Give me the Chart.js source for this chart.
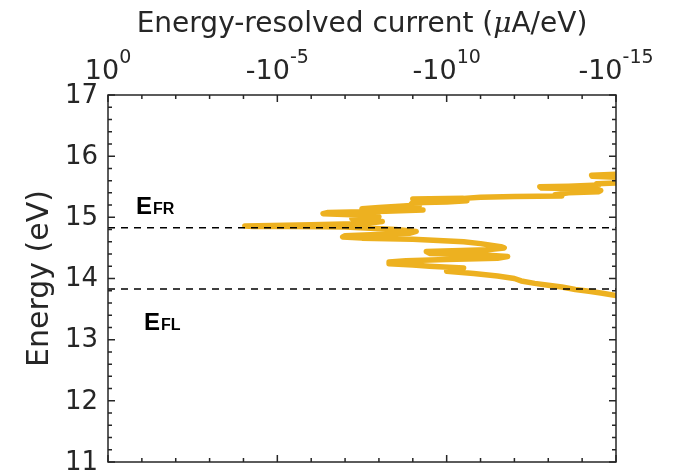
<!DOCTYPE html>
<html>
<head>
<meta charset="utf-8">
<script src="https://cdn.jsdelivr.net/npm/chart.js@4/dist/chart.umd.min.js"></script>
<style>
  html, body { margin: 0; padding: 0; background: #ffffff; }
  canvas { display: block; }
</style>
</head>
<body>
<canvas id="chart" width="676" height="475"></canvas>
<script>
// energy (eV), top to bottom
const energy = [
  15.72, 15.69, 15.67, 15.64, 15.57, 15.55, 15.53, 15.51, 15.50, 15.48,
  15.47, 15.44, 15.42, 15.40, 15.37, 15.35, 15.34, 15.33, 15.31, 15.30,
  15.28, 15.27, 15.25, 15.24, 15.22, 15.20, 15.16, 15.14, 15.12, 15.10,
  15.08, 15.06, 15.04, 15.01, 14.98, 14.95, 14.93, 14.90, 14.88, 14.86,
  14.85, 14.85, 14.84, 14.80, 14.77, 14.74, 14.70, 14.68, 14.66, 14.64,
  14.60, 14.57, 14.52, 14.50, 14.47, 14.44, 14.41, 14.39, 14.36, 14.33,
  14.31, 14.29, 14.27, 14.24, 14.22, 14.20, 14.17, 14.15, 14.12, 14.08,
  14.04, 14.00, 13.96, 13.92, 13.89, 13.86, 13.82, 13.79, 13.76, 13.72,
  13.68, 13.64
];

// log10 of |current| (uA/eV) at each energy
const logCurrent = [
  -15.6, -14.28, -14.3, -15.6, -15.6, -14.43, -14.5, -13.6, -12.75, -12.8,
  -13.7, -14.55, -14.5, -13.6, -13.2, -13.4, -12.0, -11.0, -10.5, -9.0,
  -9.4, -10.6, -10.0, -9.0, -8.96, -9.2, -8.0, -7.5, -9.3, -8.2,
  -6.5, -6.35, -7.4, -8.0, -7.2, -7.5, -8.1, -7.6, -6.0, -4.04,
  -4.3, -5.5, -7.0, -8.5, -9.1, -8.9, -7.0, -6.93, -7.5, -9.0,
  -10.5, -11.0, -11.6, -11.7, -11.2, -9.4, -9.5, -11.0, -11.8, -11.5,
  -10.0, -8.8, -8.3, -8.3, -9.0, -9.5, -10.5, -10.2, -10.0, -10.8,
  -11.5, -12.0, -12.2, -12.6, -13.0, -13.4, -13.8, -14.2, -14.6, -15.0,
  -15.6, -15.6
];

// Fermi levels of the right and left leads (eV)
const fermiRight = 14.83;
const fermiLeft = 13.83;

// axis ticks
const xMajorExp = [0, -5, -10, -15];
const xTickLabels = [["10", "0"], ["-10", "-5"], ["-10", "10"], ["-10", "-15"]];
const yTicks = [11, 12, 13, 14, 15, 16, 17];

const lineColor = "#EDB120";
const axisColor = "#262626";

const tracePoints = energy.map((e, i) => ({ x: Math.pow(10, logCurrent[i]), y: e }));
const levelLine = (e) => [{ x: 1, y: e }, { x: 1e-15, y: e }];

// frame, inward ticks, tick labels and titles
const axesDecor = {
  id: "axesDecor",
  afterDatasetsDraw(chart) {
    const { ctx, chartArea: a, scales } = chart;
    const xs = scales.x, ys = scales.y;
    ctx.save();
    ctx.strokeStyle = axisColor;
    ctx.lineWidth = 1.5;

    ctx.beginPath();
    // x ticks, one per decade, on top and bottom edges
    for (let k = 0; k >= -15; k--) {
      const px = xs.getPixelForValue(Math.pow(10, k));
      const len = k % 5 === 0 ? 7 : 4;
      ctx.moveTo(px, a.top); ctx.lineTo(px, a.top + len);
      ctx.moveTo(px, a.bottom); ctx.lineTo(px, a.bottom - len);
    }
    // y ticks every 0.2 eV on left and right edges
    for (let i = 0; i <= 30; i++) {
      const v = 11 + i * 0.2;
      const py = ys.getPixelForValue(v);
      const len = i % 5 === 0 ? 7 : 4;
      ctx.moveTo(a.left, py); ctx.lineTo(a.left + len, py);
      ctx.moveTo(a.right, py); ctx.lineTo(a.right - len, py);
    }
    ctx.stroke();
    ctx.strokeRect(a.left, a.top, a.right - a.left, a.bottom - a.top);

    ctx.fillStyle = axisColor;

    // y tick labels
    ctx.font = '26px "DejaVu Sans"';
    ctx.textAlign = "right";
    ctx.textBaseline = "middle";
    yTicks.forEach(v => ctx.fillText(String(v), a.left - 10, ys.getPixelForValue(v) + 1));

    // x tick labels with superscript exponents
    ctx.textAlign = "left";
    ctx.textBaseline = "alphabetic";
    xMajorExp.forEach((k, i) => {
      const px = xs.getPixelForValue(Math.pow(10, k));
      const [base, exp] = xTickLabels[i];
      ctx.font = '27px "DejaVu Sans"';
      const wb = ctx.measureText(base).width;
      ctx.font = '19px "DejaVu Sans"';
      const we = ctx.measureText(exp).width;
      const x0 = px - (wb + we) / 2;
      ctx.font = '27px "DejaVu Sans"';
      ctx.fillText(base, x0, 79);
      ctx.font = '19px "DejaVu Sans"';
      ctx.fillText(exp, x0 + wb, 63);
    });

    // top title with italic mu
    const parts = [
      ["Energy-resolved current (", '28px "DejaVu Sans"'],
      ["\u03bc", 'italic 28px "DejaVu Serif"'],
      ["A/eV)", '28px "DejaVu Sans"']
    ];
    let total = 0;
    parts.forEach(([t, f]) => { ctx.font = f; total += ctx.measureText(t).width; });
    let tx = (a.left + a.right) / 2 - total / 2;
    parts.forEach(([t, f]) => {
      ctx.font = f;
      ctx.fillText(t, tx, 32);
      tx += ctx.measureText(t).width;
    });

    // y title
    ctx.save();
    ctx.translate(40, (a.top + a.bottom) / 2);
    ctx.rotate(-Math.PI / 2);
    ctx.font = '30px "DejaVu Sans"';
    ctx.textAlign = "center";
    ctx.textBaseline = "middle";
    ctx.fillText("Energy (eV)", 0, 0);
    ctx.restore();

    // Fermi level labels
    ctx.fillStyle = "#000000";
    const subLabel = (main, sub, x, y) => {
      ctx.font = 'bold 24px "Liberation Sans"';
      ctx.fillText(main, x, y);
      const w = ctx.measureText(main).width;
      ctx.font = 'bold 16px "Liberation Sans"';
      ctx.fillText(sub, x + w + 1, y);
    };
    subLabel("E", "FR", 136, 214);
    subLabel("E", "FL", 144, 330);

    ctx.restore();
  }
};

new Chart(document.getElementById("chart"), {
  type: "scatter",
  data: {
    datasets: [
      {
        data: levelLine(fermiRight),
        showLine: true,
        borderColor: "#000000",
        borderWidth: 1.5,
        borderDash: [7, 6],
        pointRadius: 0,
        order: 0
      },
      {
        data: levelLine(fermiLeft),
        showLine: true,
        borderColor: "#000000",
        borderWidth: 1.5,
        borderDash: [7, 6],
        pointRadius: 0,
        order: 0
      },
      {
        data: tracePoints,
        showLine: true,
        borderColor: lineColor,
        borderWidth: 5.5,
        borderJoinStyle: "round",
        borderCapStyle: "round",
        tension: 0,
        pointRadius: 0,
        order: 1
      }
    ]
  },
  options: {
    responsive: false,
    animation: false,
    layout: { padding: { left: 108, right: 60, top: 95, bottom: 13 } },
    plugins: { legend: { display: false }, tooltip: { enabled: false } },
    scales: {
      x: { type: "logarithmic", position: "top", reverse: true, min: 1e-15, max: 1, display: false },
      y: { type: "linear", min: 11, max: 17, display: false }
    }
  },
  plugins: [axesDecor]
});
</script>
</body>
</html>
